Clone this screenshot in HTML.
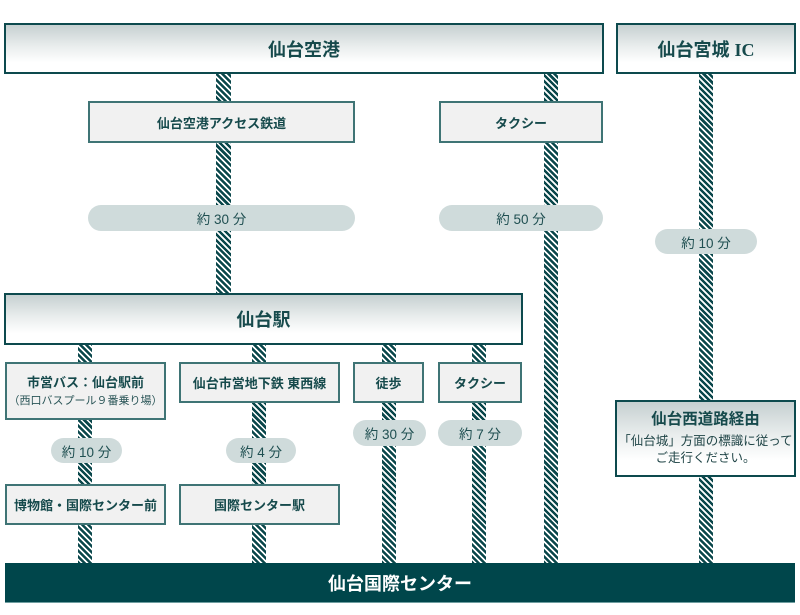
<!DOCTYPE html>
<html><head><meta charset="utf-8">
<style>
*{margin:0;padding:0;box-sizing:border-box}
html,body{width:800px;height:615px;background:#fff;overflow:hidden}
body{position:relative;font-family:"Liberation Sans","Noto Sans CJK JP",sans-serif;color:#164a4c}
.s{position:absolute;background:repeating-linear-gradient(45deg,#0a474b 0px,#0a474b 2.5px,#fff 2.5px,#fff 4.2px)}
.b{position:absolute;display:flex;flex-direction:column;align-items:center;justify-content:center;text-align:center}
.main{border:2px solid #0d4a4e;background:linear-gradient(to bottom,#c6d0d1 0%,#e9eded 45%,#fff 80%);font-weight:bold;font-size:18px}
.sm{border:2px solid #3f7475;background:#f1f1f1;font-weight:bold;font-size:13px}
.p{position:absolute;background:#cfdbdb;border-radius:14px;display:flex;align-items:center;justify-content:center;font-size:13.5px;color:#1f4f51}
</style></head><body>
<!-- stripes -->
<div class="s" style="left:216px;top:73px;width:15px;height:222px"></div>
<div class="s" style="left:544px;top:73px;width:14px;height:491px"></div>
<div class="s" style="left:699px;top:73px;width:14px;height:491px"></div>
<div class="s" style="left:78px;top:344px;width:14px;height:220px"></div>
<div class="s" style="left:252px;top:344px;width:14px;height:220px"></div>
<div class="s" style="left:382px;top:344px;width:14px;height:220px"></div>
<div class="s" style="left:472px;top:344px;width:14px;height:220px"></div>

<!-- top boxes -->
<div class="b main" style="left:4px;top:23px;width:600px;height:51px">仙台空港</div>
<div class="b main" style="left:616px;top:23px;width:180px;height:51px"><span>仙台宮城 <span style="font-family:'Liberation Serif',serif">IC</span></span></div>

<div class="b sm" style="left:88px;top:101px;width:267px;height:42px">仙台空港アクセス鉄道</div>
<div class="b sm" style="left:439px;top:101px;width:164px;height:42px">タクシー</div>

<div class="p" style="left:88px;top:205px;width:267px;height:26px">約 30 分</div>
<div class="p" style="left:439px;top:205px;width:164px;height:26px">約 50 分</div>
<div class="p" style="left:655px;top:229px;width:102px;height:25px">約 10 分</div>

<div class="b main" style="left:4px;top:293px;width:519px;height:52px">仙台駅</div>

<div class="b sm" style="left:5px;top:362px;width:161px;height:58px;line-height:1.5"><div>市営バス：仙台駅前</div><div style="font-weight:normal;font-size:11px;color:#2a5557">（西口バスプール９番乗り場）</div></div>
<div class="b sm" style="left:179px;top:362px;width:161px;height:41px">仙台市営地下鉄 東西線</div>
<div class="b sm" style="left:353px;top:362px;width:71px;height:41px">徒歩</div>
<div class="b sm" style="left:438px;top:362px;width:84px;height:41px">タクシー</div>

<div class="p" style="left:51px;top:438px;width:71px;height:25px">約 10 分</div>
<div class="p" style="left:226px;top:438px;width:70px;height:25px">約 4 分</div>
<div class="p" style="left:353px;top:420px;width:73px;height:26px">約 30 分</div>
<div class="p" style="left:438px;top:420px;width:84px;height:26px">約 7 分</div>

<div class="b sm" style="left:5px;top:484px;width:161px;height:41px">博物館・国際センター前</div>
<div class="b sm" style="left:179px;top:484px;width:161px;height:41px">国際センター駅</div>

<div class="b main" style="left:615px;top:400px;width:181px;height:77px;font-size:15.5px;line-height:1.35">
<div>仙台西道路経由</div>
<div style="font-weight:normal;font-size:12.5px;color:#1f4446;margin-top:2px">「仙台城」方面の標識に従って<br>ご走行ください。</div>
</div>

<div class="b" style="left:5px;top:563px;width:790px;height:40px;background:#00464b;color:#fff;font-weight:bold;font-size:18px;border-bottom:1px solid #6f9ea0">仙台国際センター</div>
</body></html>
